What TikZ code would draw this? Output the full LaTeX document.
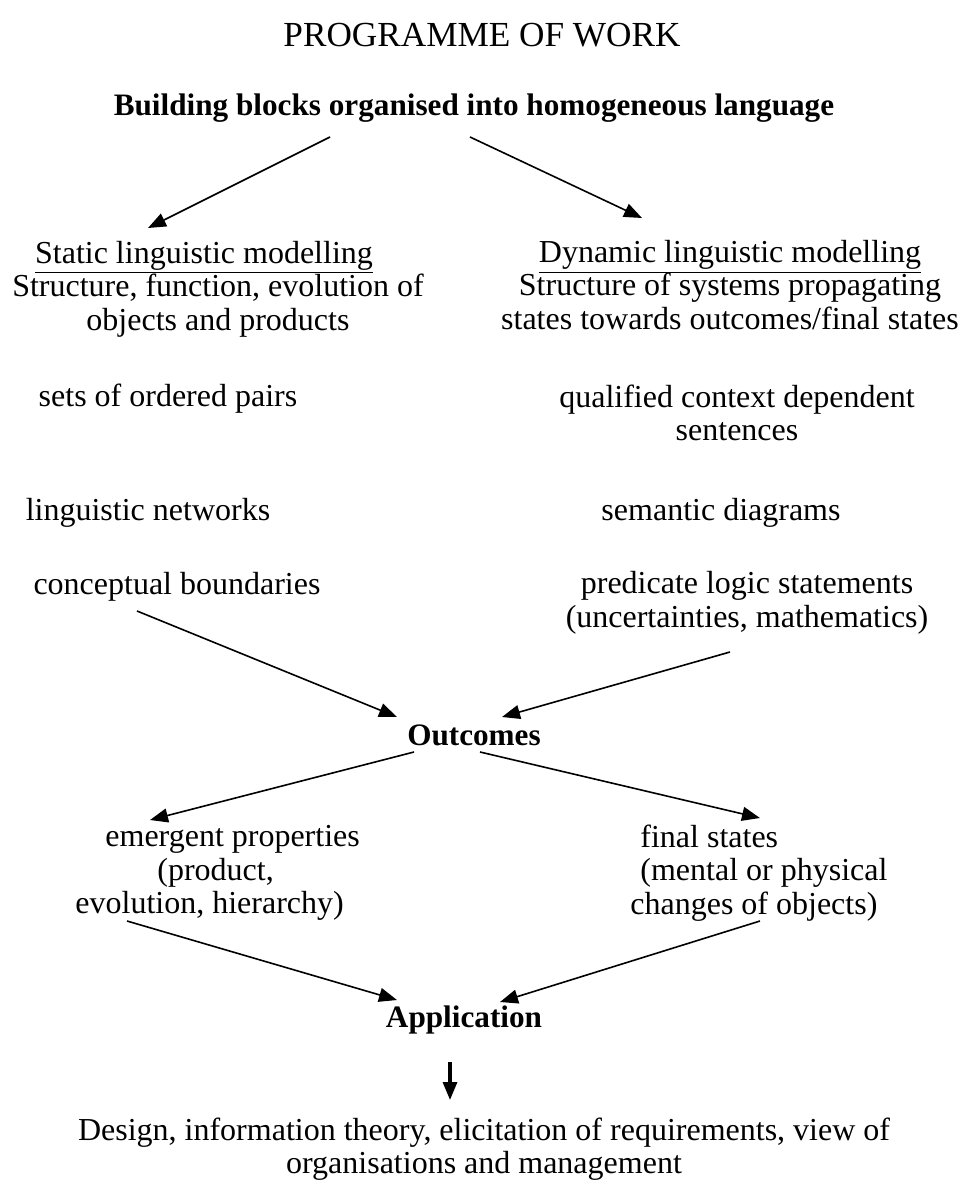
\documentclass[tikz,border=0pt]{standalone}
\usepackage{fontspec}
\setmainfont{Liberation Serif}
\usetikzlibrary{arrows.meta,positioning,calc}

\begin{document}
\begin{tikzpicture}[x=0.5pt, y=-0.5pt,
        every node/.style = {align=center, inner sep=0pt, font=\fontsize{16}{16.8}\selectfont},
        arr/.style = {-{Triangle[length=9pt,width=7pt]}, line width=0.8pt}]
        \useasboundingbox (0,0) rectangle (964,1193);
        \tikzstyle{head}=[font=\fontsize{15.6}{16.5}\selectfont\bfseries]

        \node[font=\fontsize{17.6}{20}\selectfont] (title) at (482,35) {PROGRAMME OF WORK};
        \node[head] (build) at (474,108) {Building blocks organised into homogeneous language};

        % two kinds of modelling
        \node (static) at (218,289) {\underline{Static linguistic modelling}\hspace*{14pt}\\
                Structure, function, evolution of\\ objects and products};
        \node (dynamic) at (730,285) {\underline{Dynamic linguistic modelling}\\
                Structure of systems propagating\\ states towards outcomes/final states};

        \node (pairs) at (168,399) {sets of ordered pairs};
        \node (qualified) at (737,413) {qualified context dependent\\ sentences};
        \node (networks) at (148,513) {linguistic networks};
        \node (semantic) at (721,513) {semantic diagrams};
        \node (boundaries) at (177,587) {conceptual boundaries};
        \node (predicate) at (747,603) {predicate logic statements\\ (uncertainties, mathematics)};

        \node[head] (outcomes) at (474,735) {Outcomes};
        \node[align=left, anchor=west] (emergent) at (75,873) {\hspace*{15pt}emergent properties\\
                \hspace*{41pt}(product,\\ evolution, hierarchy)};
        \node[align=left, anchor=west] (finalst) at (630,873) {\hspace*{5pt}final states\\
                \hspace*{5pt}(mental or physical\\ changes of objects)};

        \node[head] (application) at (464,1020) {Application};
        \node (design) at (484,1149) {Design, information theory, elicitation of requirements, view of\\
                organisations and management};

        \draw[arr] ($(build)+(-144,29)$) -- ($(static)+(-70,-61)$);
        \draw[arr] ($(build)+(-4,29)$) -- ($(dynamic)+(-88,-67)$);
        \draw[arr] ($(boundaries)+(-40,24)$) -- ($(outcomes)+(-77,-18)$);
        \draw[arr] ($(predicate)+(-17,49)$) -- ($(outcomes)+(28,-18)$);
        \draw[arr] ($(outcomes)+(-60,17)$) -- ($(emergent.west)+(75,-53)$);
        \draw[arr] ($(outcomes)+(6,17)$) -- ($(finalst.west)+(130,-55)$);
        \draw[arr] ($(emergent.west)+(52,48)$) -- ($(application)+(-67,-20)$);
        \draw[arr] ($(finalst.west)+(130,48)$) -- ($(application)+(36,-18)$);
        \draw[arr, line width=1.6pt] ($(application)+(-14,42)$) -- ($(design)+(-34,-49)$);
\end{tikzpicture}
\end{document}
